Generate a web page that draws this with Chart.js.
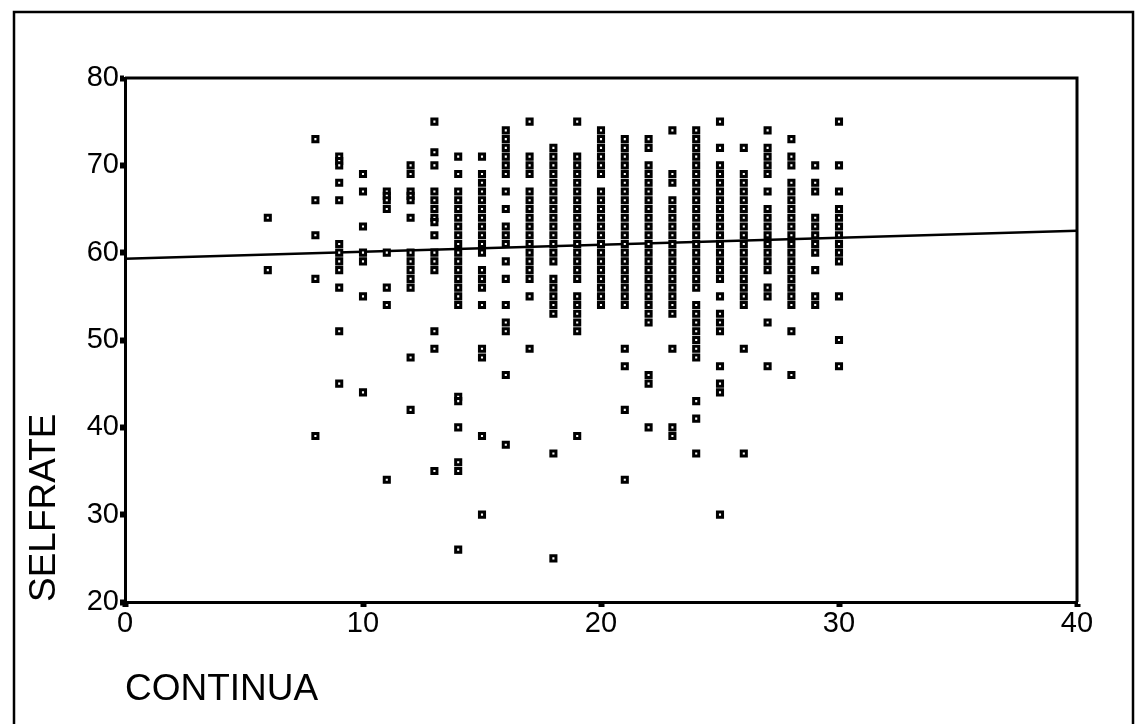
<!DOCTYPE html>
<html lang="en">
<head>
    <meta charset="UTF-8">
    <title>SELFRATE by CONTINUA</title>
    <script src="https://cdn.jsdelivr.net/npm/chart.js"></script>
    <style>
        html, body {
            margin: 0;
            padding: 0;
            background: #fff;
        }
        #chart-container {
            width: 1135px;
            height: 724px;
        }
    </style>
</head>
<body>
    <div id="chart-container">
        <canvas id="myChart"></canvas>
    </div>

    <script>
        // CONTINUA score levels (x) and SELFRATE values observed at each level (y)
        const continuaLevels = [6, 8, 9, 10, 11, 12, 13, 14, 15, 16, 17, 18, 19, 20, 21, 22, 23, 24, 25, 26, 27, 28, 29, 30];
        const selfrateByLevel = [
            [64, 58],
            [73, 66, 62, 57, 39],
            [71, 70.5, 70, 68, 66, 61, 60, 59, 58, 56, 51, 45],
            [69, 67, 63, 60, 59, 55, 44],
            [67, 66.5, 66, 65, 60, 56, 54, 34],
            [70, 69, 67, 66.5, 66, 64, 60, 59, 58, 57, 56, 48, 42],
            [75, 71.5, 70, 67, 66, 65, 64, 63.5, 62, 60, 59, 58, 51, 49, 35],
            [71, 69, 67, 66, 65, 64, 63, 62, 61, 60, 59, 58, 57, 56, 55, 54, 43.5, 43, 40, 36, 35, 26],
            [71, 69, 68, 67, 66, 65, 64, 63, 62, 61, 60, 58, 57, 56, 54, 49, 48, 39, 30],
            [74, 73, 72, 71, 70, 69, 67, 65, 63, 62, 61, 59, 57, 54, 52, 51, 46, 38],
            [75, 71, 70, 69, 67, 66, 65, 64, 63, 62, 61, 60, 59, 58, 57, 55, 49],
            [72, 71, 70, 69, 68, 67, 66, 65, 64, 63, 62, 61, 60, 59, 57, 56, 55, 54, 53, 37, 25],
            [75, 71, 70, 69, 68, 67, 66, 65, 64, 63, 62, 61, 60, 59, 58, 57, 55, 54, 53, 52, 51, 39],
            [74, 73, 72, 71, 70, 69, 67, 66, 65, 64, 63, 62, 61, 60, 59, 58, 57, 56, 55, 54],
            [73, 72, 71, 70, 69, 68, 67, 66, 65, 64, 63, 62, 61, 60, 59, 58, 57, 56, 55, 54, 49, 47, 42, 34],
            [73, 72, 70, 69, 68, 67, 66, 65, 64, 63, 62, 61, 60, 59, 58, 57, 56, 55, 54, 53, 52, 46, 45, 40],
            [74, 69, 68, 66, 65, 64, 63, 62, 61, 60, 59, 58, 57, 56, 55, 54, 53, 49, 40, 39],
            [74, 73, 72, 71, 70, 69, 68, 67, 66, 65, 64, 63, 62, 61, 60, 59, 58, 57, 56, 54, 53, 52, 51, 50, 49, 48, 43, 41, 37],
            [75, 72, 70, 69, 68, 67, 66, 65, 64, 63, 62, 61, 60, 59, 58, 57, 55, 53, 52, 51, 47, 45, 44, 30],
            [72, 69, 68, 67, 66, 65, 64, 63, 62, 61, 60, 59, 58, 57, 56, 55, 54, 49, 37],
            [74, 72, 71, 70, 69, 67, 65, 64, 63, 62, 61, 60, 59, 58, 56, 55, 52, 47],
            [73, 71, 70, 68, 67, 66, 65, 64, 63, 62, 61, 60, 59, 58, 57, 56, 55, 54, 51, 46],
            [70, 68, 67, 64, 63, 62, 61, 60, 58, 55, 54],
            [75, 70, 67, 65, 64, 63, 62, 61, 60, 59, 55, 50, 47]
        ];

        // fitted regression line
        const fitX = [0, 40];
        const fitY = [59.3, 62.5];

        const xTicks = [0, 10, 20, 30, 40];
        const yTicks = [20, 30, 40, 50, 60, 70, 80];

        const points = [];
        continuaLevels.forEach((lvl, i) => {
            selfrateByLevel[i].forEach(v => points.push({ x: lvl, y: v }));
        });
        const fitPoints = fitX.map((x, i) => ({ x: x, y: fitY[i] }));

        // outer frame + box around the plot area
        const framePlugin = {
            id: 'frame',
            afterDraw(chart) {
                const { ctx, chartArea: a } = chart;
                ctx.save();
                ctx.strokeStyle = '#000';
                ctx.lineWidth = 2.5;
                ctx.strokeRect(14, 12, 1119, 730);
                ctx.lineWidth = 3;
                ctx.beginPath();
                ctx.moveTo(a.left, a.top);
                ctx.lineTo(a.right, a.top);
                ctx.lineTo(a.right, a.bottom);
                ctx.stroke();
                ctx.restore();
            }
        };

        const tickFont = { family: 'Liberation Sans, Arial, sans-serif', size: 29 };
        const titleFont = { family: 'Liberation Sans, Arial, sans-serif', size: 37 };

        const ctx = document.getElementById('myChart').getContext('2d');
        new Chart(ctx, {
            type: 'scatter',
            data: {
                datasets: [
                    {
                        label: 'SELFRATE',
                        data: points,
                        pointStyle: 'rect',
                        pointRadius: 3.6,
                        pointBorderWidth: 3,
                        pointBackgroundColor: '#fff',
                        pointBorderColor: '#000'
                    },
                    {
                        type: 'line',
                        label: 'Fit',
                        data: fitPoints,
                        borderColor: '#000',
                        borderWidth: 2.5,
                        pointRadius: 0,
                        fill: false
                    }
                ]
            },
            options: {
                responsive: true,
                maintainAspectRatio: false,
                animation: false,
                layout: { padding: { left: 0, top: 78, right: 58, bottom: 0 } },
                plugins: {
                    legend: { display: false },
                    tooltip: { enabled: false }
                },
                scales: {
                    x: {
                        type: 'linear',
                        min: 0,
                        max: 40,
                        afterBuildTicks: s => { s.ticks = xTicks.map(v => ({ value: v })); },
                        afterFit: s => { s.height = 122; },
                        ticks: { color: '#000', font: tickFont, padding: 0, maxRotation: 0 },
                        grid: { drawOnChartArea: false, drawTicks: true, tickLength: 5, tickWidth: 6, tickColor: '#000' },
                        border: { display: true, color: '#000', width: 3 },
                        title: {
                            display: true,
                            text: 'CONTINUA',
                            align: 'start',
                            color: '#000',
                            font: titleFont,
                            padding: { top: 0, bottom: 12 }
                        }
                    },
                    y: {
                        type: 'linear',
                        min: 20,
                        max: 80,
                        afterBuildTicks: s => { s.ticks = yTicks.map(v => ({ value: v })); },
                        afterFit: s => { s.width = 125; },
                        ticks: { color: '#000', font: tickFont, padding: 1 },
                        grid: { drawOnChartArea: false, drawTicks: true, tickLength: 5, tickWidth: 6, tickColor: '#000' },
                        border: { display: true, color: '#000', width: 3 },
                        title: {
                            display: true,
                            text: 'SELFRATE',
                            align: 'start',
                            color: '#000',
                            font: titleFont,
                            padding: { top: 23, bottom: 0 }
                        }
                    }
                }
            },
            plugins: [framePlugin]
        });
    </script>
</body>
</html>
